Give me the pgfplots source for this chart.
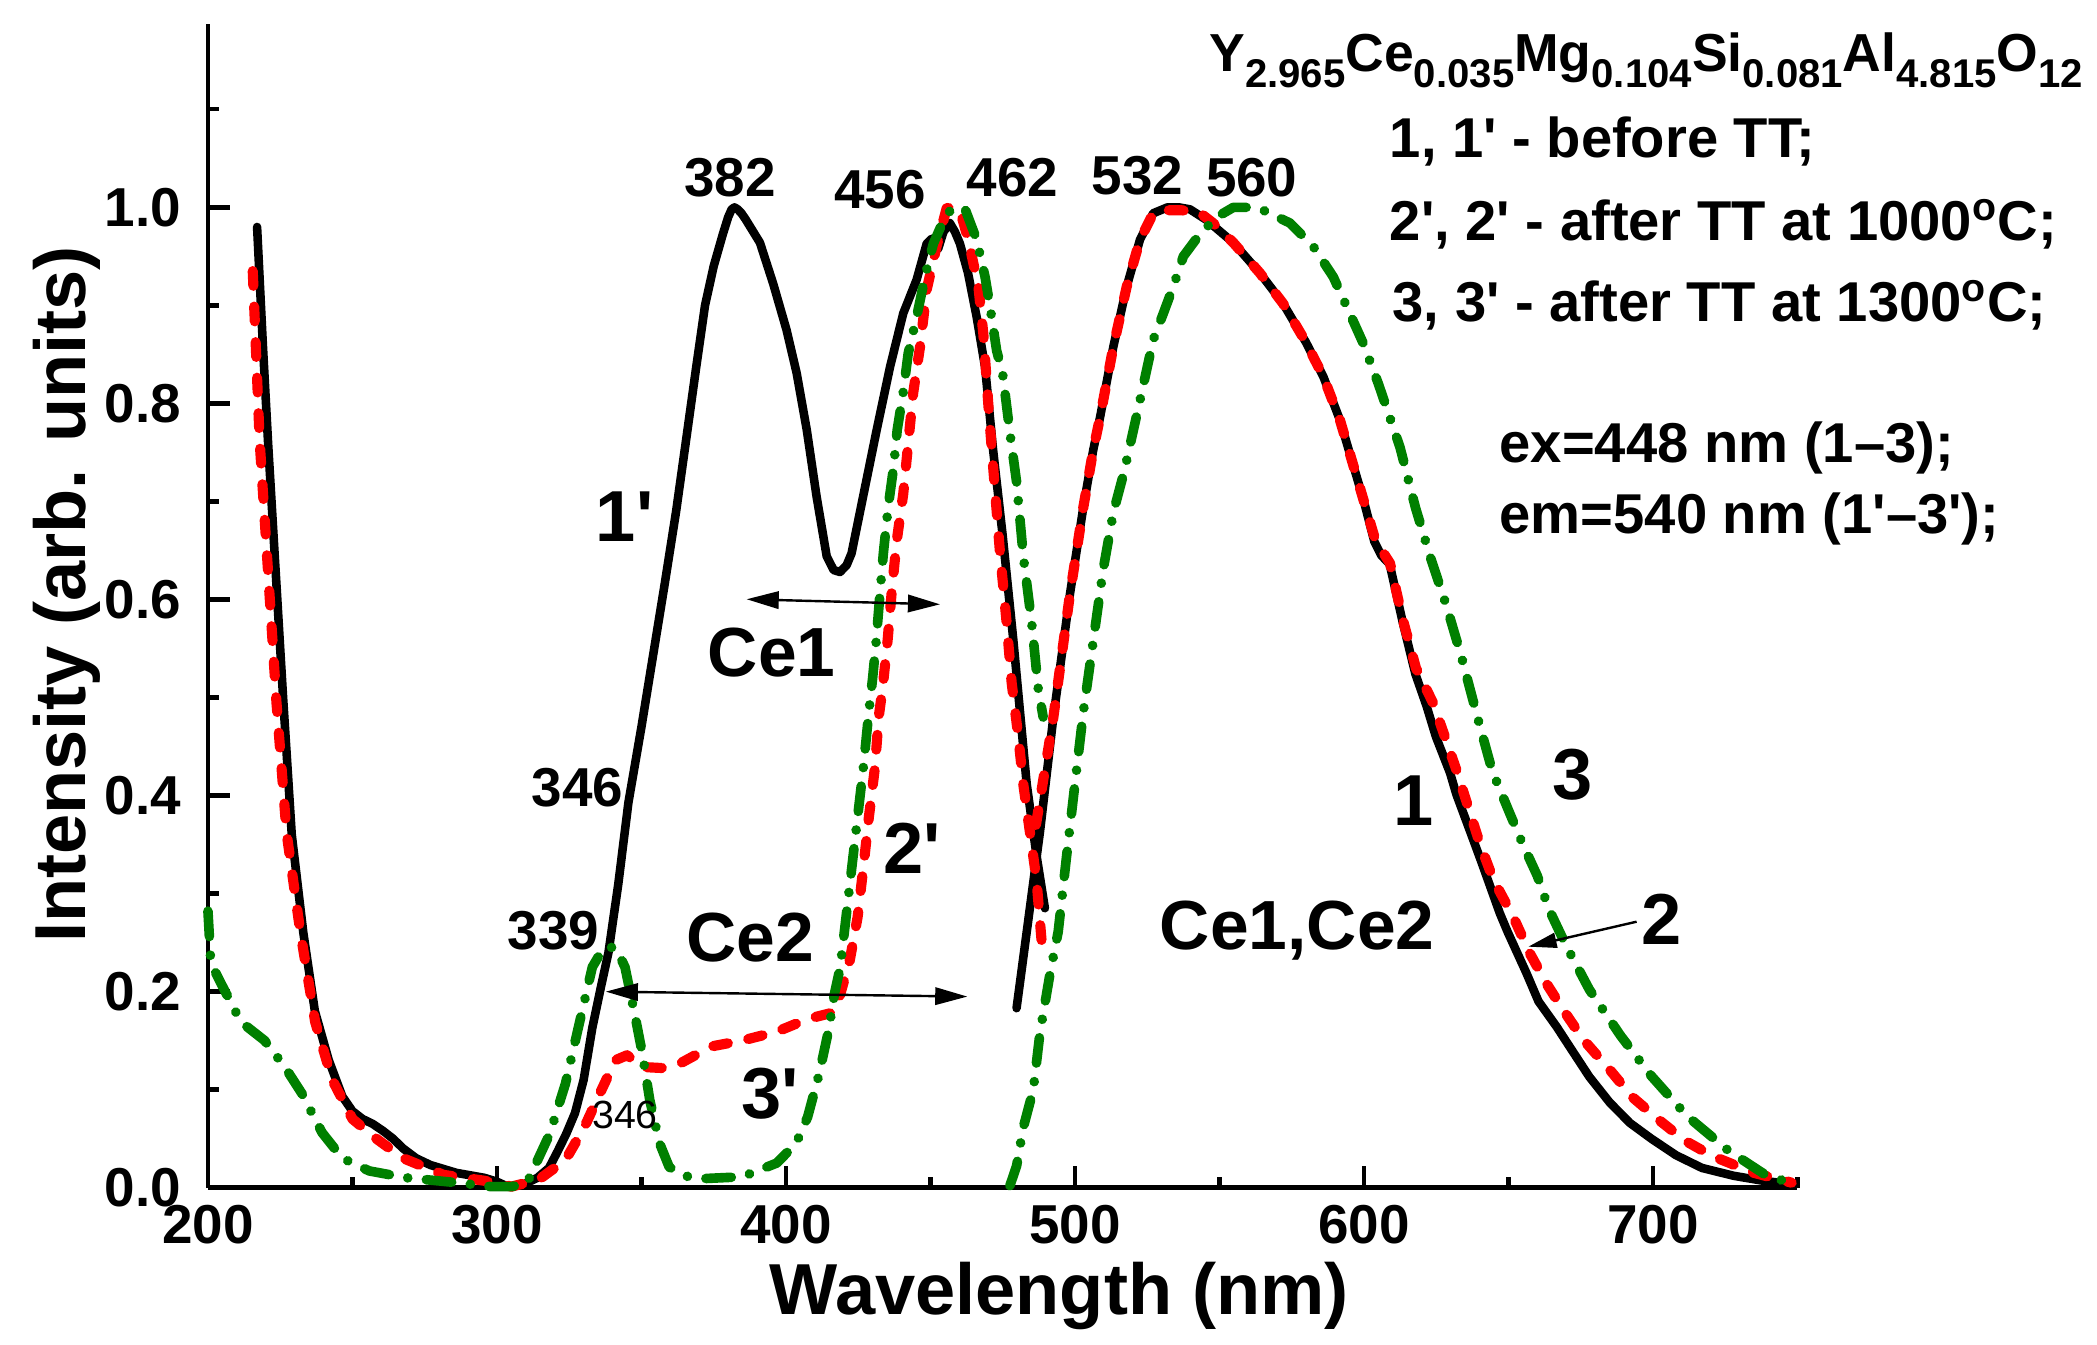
\documentclass[border=0pt]{standalone}
\usepackage{fontspec}
\setmainfont{Liberation Sans}
\usepackage{pgfplots}
\pgfplotsset{compat=1.18}
\usetikzlibrary{arrows.meta}
\definecolor{cred}{RGB}{255,0,0}
\definecolor{cgreen}{RGB}{0,128,0}
\newcommand{\q}{\textquotesingle}
\newcommand{\fs}[1]{\fontsize{#1}{#1}\selectfont\bfseries}
\newcommand{\sbs}[1]{\raisebox{-6bp}{\fontsize{15bp}{16bp}\selectfont #1}}
\begin{document}
\begin{tikzpicture}
\path[use as bounding box] (-77.75bp,-58.5bp) rectangle (706.25bp,444bp);
\begin{axis}[
  at={(0,0)}, anchor=south west,
  scale only axis, width=594.25bp, height=435bp,
  xmin=200, xmax=750, ymin=0, ymax=1.187,
  enlargelimits=false, clip=false,
  axis x line=bottom, axis y line=left,
  axis line style={-, line width=1.6bp},
  xtick={200,300,400,500,600,700}, minor xtick={250,350,450,550,650,750},
  ytick={0,0.2,0.4,0.6,0.8,1.0}, minor ytick={0.1,0.3,0.5,0.7,0.9,1.1},
  xtick pos=bottom, ytick pos=left,
  tick align=inside,
  major tick length=8.2bp, minor tick length=4.1bp,
  every tick/.style={line width=1.6bp, black},
  /pgf/number format/assume math mode=true,
  tick label style={font=\fs{20.5bp}},
  y tick label style={xshift=-6.5bp},
  x tick label style={yshift=-3bp},
  yticklabel style={/pgf/number format/fixed, /pgf/number format/fixed zerofill, /pgf/number format/precision=1},
  xlabel={Wavelength (nm)},
  x label style={at={(axis description cs:0.5355,-0.1095)}, anchor=base, font=\fs{27bp}},
  ylabel={Intensity (arb. units)},
  y label style={at={(axis description cs:-0.077,0.5098)}, anchor=base, rotate=0, font=\fs{27bp}},
  every axis plot/.append style={line join=round, line cap=round},
]
% 1' excitation, before TT
\addplot[black, line width=3.2bp] coordinates {
(217,0.98) (219,0.86) (220.8,0.76) (223.4,0.63) (226,0.50) (229,0.36) (233,0.26) (237,0.18) (241.8,0.13) (246.5,0.093) (250,0.078) (253.5,0.070) (257,0.065) (260.5,0.058) (264,0.050) (267.5,0.040) (272,0.030) (277,0.023) (286,0.015) (295.6,0.010) (300,0.006) (303.7,0.001) (309,0.003) (314,0.010) (318,0.020) (321,0.037) (324,0.055) (327,0.076) (330,0.110) (333,0.163) (336,0.205) (338.6,0.240) (342,0.310) (345.5,0.393) (350,0.470) (354.8,0.557) (358,0.615) (362,0.690) (365.7,0.768) (368.9,0.836) (372,0.900) (375,0.940) (378.2,0.973) (380,0.990) (381.2,0.998) (382.2,1.000) (383.3,0.998) (384.6,0.994) (386,0.988) (391,0.964) (395.6,0.922) (400.2,0.875) (403.7,0.831) (407.2,0.773) (410.6,0.705) (414.1,0.644) (416.5,0.630) (418.7,0.628) (421,0.635) (422.7,0.647) (426.7,0.705) (431.4,0.773) (436,0.837) (440.6,0.892) (445.2,0.926) (448.7,0.963) (450.4,0.968) (452.7,0.958) (454.5,0.975) (456.7,0.984) (458.5,0.975) (460.2,0.963) (463,0.933) (466,0.888) (468.9,0.837) (471.7,0.752) (475,0.665) (478.7,0.558) (483.3,0.412) (486.7,0.339) (489.6,0.285)
};
% 1 emission, before TT
\addplot[black, line width=3.2bp] coordinates {
(479.8,0.183) (484.4,0.285) (487.9,0.363) (492.5,0.479) (498.3,0.606) (502.9,0.694) (506.3,0.752) (508.7,0.786) (513.3,0.858) (517.9,0.919) (522.5,0.967) (527.1,0.994) (532,1.0) (536,1.0) (539.8,0.998) (545.6,0.987) (554.8,0.964) (564,0.933) (572,0.902) (580,0.862) (586,0.827) (591.7,0.783) (596.5,0.735) (600,0.700) (603.6,0.659) (606,0.645) (608.9,0.636) (613.4,0.577) (617.8,0.524) (621.7,0.491) (624.9,0.460) (629.8,0.423) (632,0.401) (637.8,0.355) (640.8,0.331) (647,0.280) (649.7,0.261) (656.2,0.219) (660.4,0.190) (666.7,0.164) (672,0.140) (678,0.113) (685,0.087) (692,0.066) (699.4,0.050) (708,0.033) (717,0.020) (728,0.012) (738,0.007) (749,0.003)
};
% 2' excitation, after TT 1000
\addplot[cred, line width=3.8bp, dash pattern=on 5.5bp off 7.8bp] coordinates {
(215.5,0.935) (217.9,0.761) (220.8,0.628) (223.7,0.495) (227.2,0.362) (231.9,0.262) (237.1,0.169) (243,0.110) (250,0.070) (258.2,0.050) (267.5,0.030) (281.5,0.013) (295.6,0.007) (305,0.001) (314.4,0.008) (323.7,0.028) (330.3,0.062) (335.6,0.096) (341,0.130) (345,0.135) (350.3,0.123) (357,0.122) (363.6,0.127) (374.2,0.144) (384.9,0.150) (396.8,0.159) (407.5,0.172) (415.5,0.178) (418.2,0.191) (422.1,0.232) (424.8,0.276) (426.8,0.327) (428.7,0.378) (430.8,0.429) (432.1,0.480) (433.5,0.511) (435.2,0.559) (436.6,0.608) (438.3,0.659) (440.6,0.708) (442.3,0.759) (444,0.810) (446.4,0.858) (448.7,0.916) (452.1,0.960) (455.6,0.999) (457,1.0) (460.2,0.997) (463.1,0.967) (466.6,0.919) (468.3,0.871) (470,0.800) (471.7,0.735) (474,0.650) (476.4,0.575) (478.1,0.515) (480.4,0.460) (482.1,0.412) (484.4,0.363) (486.7,0.314) (488.5,0.250)
};
% 2 emission
\addplot[cred, line width=3.8bp, dash pattern=on 5.5bp off 7.8bp] coordinates {
(486.5,0.37) (492.5,0.479) (498.3,0.606) (502.9,0.694) (506.3,0.752) (508.7,0.786) (513.3,0.858) (517.9,0.919) (522.5,0.967) (527.1,0.994) (532,0.997) (537,0.997) (543,0.995) (547.8,0.984) (554.8,0.964) (564,0.933) (572,0.902) (580,0.862) (586,0.827) (591.7,0.783) (596.5,0.735) (600,0.700) (604,0.660) (609,0.637) (613.4,0.580) (618,0.530) (624,0.494) (632,0.426) (640.1,0.351) (644.8,0.314) (651.7,0.276) (657.4,0.239) (663.2,0.208) (669,0.181) (675.9,0.151) (685.1,0.120) (693,0.092) (702.9,0.067) (711,0.048) (720.7,0.032) (735,0.015) (748,0.005)
};
% 3' excitation, after TT 1300
\addplot[cgreen, line width=3.6bp, dash pattern=on 9.5bp off 7bp on 0.01bp off 7bp] coordinates {
(200,0.282) (201,0.229) (204.4,0.209) (211.4,0.169) (219.6,0.150) (226.6,0.123) (232.5,0.096) (239.5,0.056) (246.5,0.030) (255.8,0.017) (268.7,0.010) (286.2,0.005) (298,0.001) (305,0.001) (310.3,0.004) (318.3,0.055) (323.7,0.106) (329,0.174) (333,0.225) (337,0.245) (341,0.245) (344.3,0.225) (347.6,0.178) (350.3,0.137) (352.9,0.089) (356.3,0.045) (359.6,0.021) (365,0.012) (370.2,0.009) (384.9,0.011) (396.8,0.025) (403.5,0.045) (407.5,0.072) (411.5,0.116) (414.8,0.161) (416.8,0.198) (418.8,0.225) (420.8,0.276) (422.8,0.327) (424.8,0.378) (426.8,0.429) (428.5,0.480) (430,0.520) (431.2,0.557) (432.5,0.605) (433.7,0.647) (435.4,0.695) (437.2,0.734) (438.5,0.773) (440.6,0.812) (442.3,0.851) (445.2,0.888) (448.4,0.933) (451,0.963) (455.6,0.994) (459,1.0) (461.9,0.999) (466,0.967) (468.9,0.929) (470.6,0.899) (472.9,0.854) (475,0.830) (477.5,0.770) (479.8,0.720) (482.1,0.645) (485,0.577) (487.3,0.509) (489,0.480)
};
% 3 emission
\addplot[cgreen, line width=3.6bp, dash pattern=on 9.5bp off 7bp on 0.01bp off 7bp] coordinates {
(477.5,0.002) (479.8,0.022) (482.1,0.061) (485.6,0.100) (487.9,0.158) (491.3,0.217) (494.2,0.261) (497.1,0.338) (500,0.412) (502.9,0.485) (506.3,0.557) (509.8,0.631) (513.3,0.689) (517,0.730) (522.5,0.803) (527.1,0.865) (530.6,0.892) (534,0.919) (537.5,0.950) (543.3,0.973) (549,0.990) (554.8,1.0) (560,1.0) (565.2,0.997) (574.4,0.984) (582.5,0.960) (589.4,0.929) (594,0.899) (599.8,0.861) (605,0.820) (612.5,0.755) (617.8,0.694) (623.1,0.642) (628.4,0.595) (633.7,0.542) (639,0.483) (644.4,0.425) (650,0.385) (655,0.350) (660,0.318) (664,0.284) (670.1,0.246) (678,0.202) (688.8,0.155) (699.4,0.114) (711.8,0.073) (726,0.038) (738.4,0.014) (749,0.003)
};
\end{axis}
\begin{scope}[x=0.5bp, y=-0.5bp, shift={(-77.75bp,444bp)}]
% peak labels
\node[anchor=base, inner sep=0, font=\fs{20.5bp}] at (546,147) {382};
\node[anchor=base, inner sep=0, font=\fs{20.5bp}] at (658,155.7) {456};
\node[anchor=base, inner sep=0, font=\fs{20.5bp}] at (757,147) {462};
\node[anchor=base, inner sep=0, font=\fs{20.5bp}] at (850.7,145.8) {532};
\node[anchor=base, inner sep=0, font=\fs{20.5bp}] at (936,147) {560};
\node[anchor=base, inner sep=0, font=\fs{20.5bp}] at (432,603) {346};
\node[anchor=base, inner sep=0, font=\fs{20.5bp}] at (414,710) {339};
\node[anchor=base, inner sep=0, font=\fontsize{14.7bp}{16bp}\selectfont] at (467.3,843.7) {346};
% curve labels
\node[anchor=base, inner sep=0, font=\fs{27bp}] at (467,405) {1\q};
\node[anchor=base, inner sep=0, font=\fs{27bp}] at (682,653) {2\q};
\node[anchor=base, inner sep=0, font=\fs{27bp}] at (576,836) {3\q};
\node[anchor=base, inner sep=0, font=\fs{27bp}] at (1056.8,617.6) {1};
\node[anchor=base, inner sep=0, font=\fs{27bp}] at (1176,598) {3};
\node[anchor=base, inner sep=0, font=\fs{27bp}] at (1242.5,706.6) {2};
\node[anchor=base, inner sep=0, font=\fs{26bp}] at (577,506) {Ce1};
\node[anchor=base, inner sep=0, font=\fs{26bp}] at (560.8,719) {Ce2};
\node[anchor=base, inner sep=0, font=\fs{26bp}] at (970,710) {Ce1,Ce2};
% arrows
\draw[line width=0.9bp, {Triangle[length=12bp,width=6.5bp]}-{Triangle[length=12bp,width=6.5bp]}] (558.3,448.1) -- (702.9,451.9);
\draw[line width=0.9bp, {Triangle[length=12bp,width=6.5bp]}-{Triangle[length=12bp,width=6.5bp]}] (453,741.5) -- (723.3,745.2);
\draw[line width=0.9bp, -{Triangle[length=10.6bp,width=5.6bp]}] (1223.8,689.2) -- (1142.8,707.9);
% text block
\node[anchor=base west, inner sep=0, font=\fs{20bp}] at (904,53.4) {Y\sbs{2.965}Ce\sbs{0.035}Mg\sbs{0.104}Si\sbs{0.081}Al\sbs{4.815}O\sbs{12}};
\node[anchor=base west, inner sep=0, font=\fs{21bp}] at (1038.8,117.6) {1, 1\q\ - before TT;};
\node[anchor=base west, inner sep=0, font=\fs{21bp}] at (1038.8,179.7) {2\q, 2\q\ - after TT at 1000\textsuperscript{o}C;};
\node[anchor=base west, inner sep=0, font=\fs{21bp}] at (1041,240.4) {3, 3\q\ - after TT at 1300\textsuperscript{o}C;};
\node[anchor=base west, inner sep=0, font=\fs{21bp}] at (1121,346.1) {ex=448 nm (1\textendash 3);};
\node[anchor=base west, inner sep=0, font=\fs{21bp}] at (1121,399) {em=540 nm (1\q\textendash 3\q);};
\end{scope}
\end{tikzpicture}
\end{document}
